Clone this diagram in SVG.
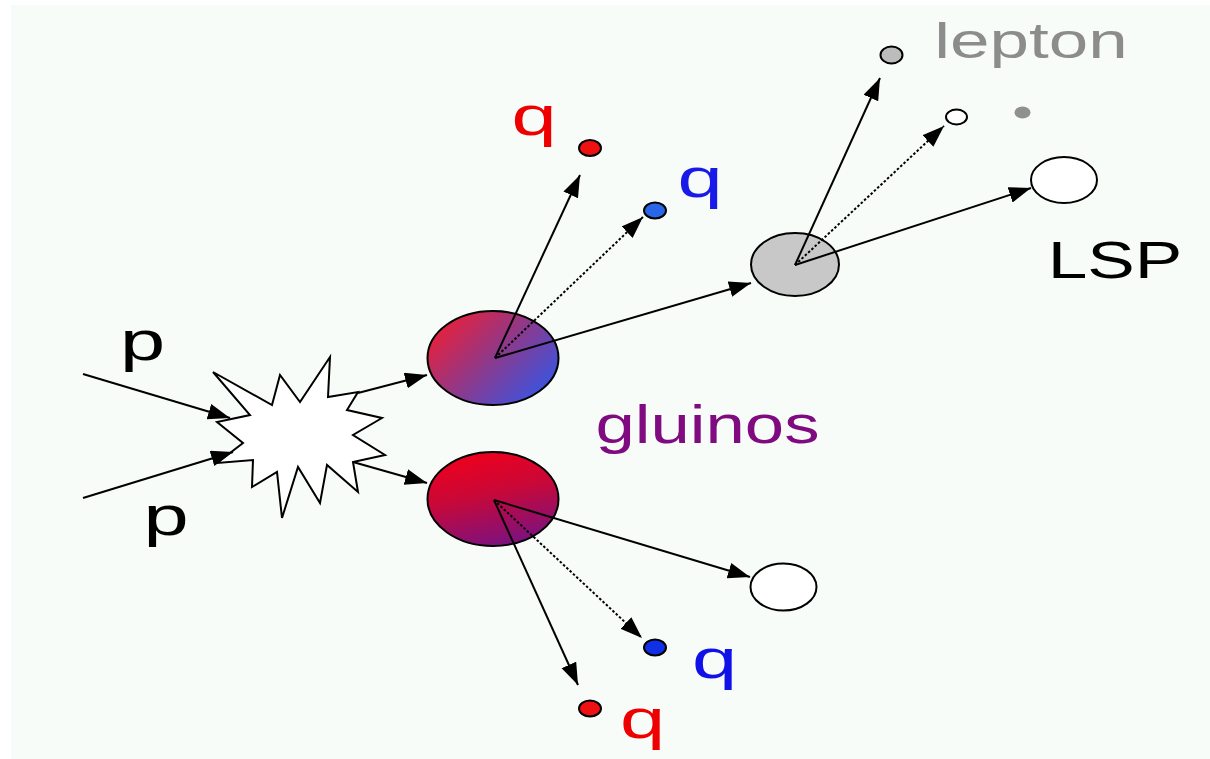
<svg xmlns="http://www.w3.org/2000/svg" width="1210" height="759" viewBox="0 0 1210 759">
  <style>
    .lbl { font-family: "Liberation Sans", Arial, sans-serif; text-anchor: middle; }
    .ln { stroke: #000; stroke-width: 2; fill: none; }
    .dot { stroke-dasharray: 2.5 2; }
    .edge { stroke: #000; stroke-width: 2; }
  </style>
  <defs>
    <marker id="ah" markerUnits="userSpaceOnUse" markerWidth="24" markerHeight="18" refX="22" refY="8" orient="auto">
      <path d="M0,0 L22,8 L0,16 z" fill="#000"/>
    </marker>
    <linearGradient id="gUp" x1="0.05" y1="0.2" x2="0.95" y2="0.85">
      <stop offset="0" stop-color="#e8203a"/>
      <stop offset="0.5" stop-color="#8a3a8e"/>
      <stop offset="1" stop-color="#3556e6"/>
    </linearGradient>
    <linearGradient id="gLow" x1="0.3" y1="0" x2="0.6" y2="1">
      <stop offset="0" stop-color="#f0001c"/>
      <stop offset="0.45" stop-color="#c80838"/>
      <stop offset="1" stop-color="#7a1280"/>
    </linearGradient>
  </defs>

  <rect x="0" y="0" width="1210" height="759" fill="#ffffff"/>
  <rect x="11" y="5" width="1199" height="754" fill="#f8fcf8"/>

  <g id="collision">
    <polygon class="edge" fill="#ffffff" points="213,372 250,415 217,422 243,443 217,463 253,460 252,487 277,472 282,518 298,467 320,503 327,465 358,492 353,462 385,455 353,435 382,418 347,410 358,392 328,397 330,357 300,402 280,375 272,405"/>
  </g>

  <g id="gluino-upper">
    <ellipse class="edge" cx="493" cy="358" rx="65.5" ry="47" fill="url(#gUp)"/>
  </g>
  <g id="gluino-lower">
    <ellipse class="edge" cx="493" cy="499" rx="65.5" ry="47" fill="url(#gLow)"/>
  </g>
  <g id="neutralino">
    <ellipse class="edge" cx="795" cy="264.5" rx="44" ry="31.5" fill="#c8c8c8"/>
  </g>
  <g id="lsp-upper">
    <ellipse class="edge" cx="1064" cy="180" rx="33" ry="23" fill="#ffffff"/>
  </g>
  <g id="lsp-lower">
    <ellipse class="edge" cx="783.5" cy="587" rx="33" ry="23.5" fill="#ffffff"/>
  </g>
  <g id="q-red-upper">
    <ellipse class="edge" cx="590" cy="148" rx="11" ry="8" fill="#ee1111"/>
  </g>
  <g id="q-blue-upper">
    <ellipse class="edge" cx="655" cy="210.5" rx="11" ry="8" fill="#2a66e8"/>
  </g>
  <g id="q-blue-lower">
    <ellipse class="edge" cx="655" cy="647.5" rx="11" ry="8" fill="#1030e8"/>
  </g>
  <g id="q-red-lower">
    <ellipse class="edge" cx="590" cy="708.5" rx="11" ry="8" fill="#ee1111"/>
  </g>
  <g id="lepton-1">
    <ellipse class="edge" cx="891.5" cy="55" rx="11" ry="8.5" fill="#bcbcbc"/>
  </g>
  <g id="lepton-2">
    <ellipse class="edge" cx="956.5" cy="117" rx="10.5" ry="7.5" fill="#ffffff"/>
  </g>
  <g id="lepton-3">
    <ellipse cx="1022.5" cy="112.5" rx="8" ry="6" fill="#909090"/>
  </g>

  <g id="connectors">
    <line class="ln" x1="83" y1="374" x2="230" y2="418" marker-end="url(#ah)"/>
    <line class="ln" x1="83" y1="498" x2="233" y2="452" marker-end="url(#ah)"/>
    <line class="ln" x1="358" y1="393" x2="427" y2="375" marker-end="url(#ah)"/>
    <line class="ln" x1="353" y1="462" x2="427" y2="483" marker-end="url(#ah)"/>
    <line class="ln" x1="495" y1="358" x2="580" y2="175" marker-end="url(#ah)"/>
    <line class="ln dot" x1="495" y1="358" x2="643" y2="217" marker-end="url(#ah)"/>
    <line class="ln" x1="495" y1="358" x2="751" y2="283" marker-end="url(#ah)"/>
    <line class="ln" x1="795" y1="265" x2="880" y2="78" marker-end="url(#ah)"/>
    <line class="ln dot" x1="795" y1="265" x2="944" y2="126" marker-end="url(#ah)"/>
    <line class="ln" x1="795" y1="265" x2="1031" y2="188" marker-end="url(#ah)"/>
    <line class="ln" x1="494" y1="500" x2="750" y2="577" marker-end="url(#ah)"/>
    <line class="ln dot" x1="494" y1="500" x2="642" y2="638" marker-end="url(#ah)"/>
    <line class="ln" x1="494" y1="500" x2="578" y2="685" marker-end="url(#ah)"/>
  </g>

  <g id="labels">
    <text class="lbl" font-size="56" fill="#000" transform="translate(142.5,360) scale(1.45,1)">p</text>
    <text class="lbl" font-size="56" fill="#000" transform="translate(166,535) scale(1.45,1)">p</text>
    <text class="lbl" font-size="56" fill="#ee0000" transform="translate(534,135) scale(1.45,1)">q</text>
    <text class="lbl" font-size="56" fill="#1a1ae8" transform="translate(700,197) scale(1.45,1)">q</text>
    <text class="lbl" font-size="56" fill="#1010e8" transform="translate(714.5,678) scale(1.45,1)">q</text>
    <text class="lbl" font-size="56" fill="#ee0000" transform="translate(642.5,738) scale(1.45,1)">q</text>
    <text class="lbl" font-size="54" fill="#800a80" transform="translate(707.5,443) scale(1.31,1)">gluinos</text>
    <text class="lbl" font-size="50" fill="#8c8c8c" transform="translate(1031,58) scale(1.42,1)">lepton</text>
    <text class="lbl" font-size="52" fill="#000" transform="translate(1115,278) scale(1.37,1)">LSP</text>
  </g>
</svg>
